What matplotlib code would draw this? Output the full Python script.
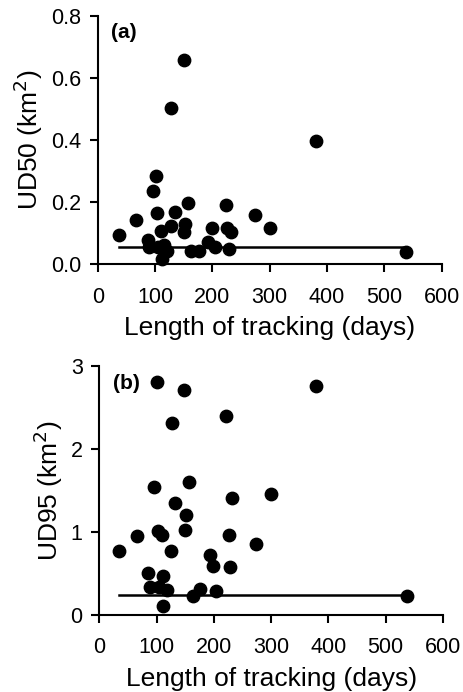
import matplotlib
matplotlib.use("Agg")
import matplotlib.pyplot as plt

plt.rcParams["font.family"] = ["Liberation Sans", "DejaVu Sans"]

# panel (a): UD50
days_a = [150, 128, 380, 102, 96, 157, 223, 103, 134, 274, 67, 127, 153, 110,
          150, 200, 226, 233, 300, 37, 87, 89, 106, 115, 121, 112, 163, 177,
          193, 204, 229, 537]
ud50 = [0.659, 0.502, 0.397, 0.283, 0.236, 0.199, 0.191, 0.166, 0.169, 0.160,
        0.143, 0.123, 0.130, 0.108, 0.103, 0.117, 0.117, 0.105, 0.117, 0.096,
        0.079, 0.057, 0.057, 0.063, 0.044, 0.017, 0.042, 0.044, 0.071, 0.056,
        0.048, 0.041]
line_a_x = [37, 537]
line_a_y = [0.056, 0.056]

# panel (b): UD95
days_b = [100, 148, 379, 222, 127, 156, 95, 299, 231, 133, 152, 102, 110, 149,
          65, 227, 273, 35, 126, 193, 199, 228, 85, 112, 89, 104, 119, 112,
          163, 176, 203, 538]
ud95 = [2.81, 2.715, 2.764, 2.396, 2.311, 1.600, 1.539, 1.455, 1.414, 1.349,
        1.212, 1.018, 0.970, 1.022, 0.949, 0.962, 0.857, 0.772, 0.768, 0.719,
        0.598, 0.586, 0.505, 0.473, 0.335, 0.343, 0.307, 0.109, 0.226, 0.311,
        0.291, 0.230]
line_b_x = [35, 538]
line_b_y = [0.246, 0.246]

fig = plt.figure(figsize=(4.63, 6.92), dpi=100)
ax1 = fig.add_axes([0.211, 0.618, 0.743, 0.359])
ax2 = fig.add_axes([0.2145, 0.111, 0.742, 0.360])


def style(ax, ylim, yticks, yfmt, ylabel, tag):
    ax.set_xlim(0, 600)
    ax.set_ylim(*ylim)
    ax.set_xticks(range(0, 601, 100))
    ax.set_yticks(yticks)
    ax.set_yticklabels([yfmt.format(v) for v in yticks])
    for s in ["top", "right"]:
        ax.spines[s].set_visible(False)
    for s in ["left", "bottom"]:
        ax.spines[s].set_linewidth(1.5)
    ax.tick_params(direction="out", length=6, width=1.5, labelsize=15.5,
                   colors="black", pad=6)
    ax.tick_params(axis="x", pad=10)
    ax.set_xlabel("Length of tracking (days)", fontsize=19, labelpad=6)
    ax.set_ylabel(ylabel, fontsize=19, labelpad=4)
    ax.text(0.04, 0.97, tag, transform=ax.transAxes, fontsize=15,
            fontweight="bold", va="top", ha="left")


ax1.scatter(days_a, ud50, s=80, color="black", zorder=3, clip_on=False)
ax1.plot(line_a_x, line_a_y, color="black", lw=1.8)
style(ax1, (0, 0.8), [0, 0.2, 0.4, 0.6, 0.8], "{:.1f}",
      "UD50 (km$^2$)", "(a)")

ax2.scatter(days_b, ud95, s=80, color="black", zorder=3, clip_on=False)
ax2.plot(line_b_x, line_b_y, color="black", lw=1.8)
style(ax2, (0, 3), [0, 1, 2, 3], "{:.0f}", "UD95 (km$^2$)", "(b)")

fig.savefig("out.png", dpi=100)
